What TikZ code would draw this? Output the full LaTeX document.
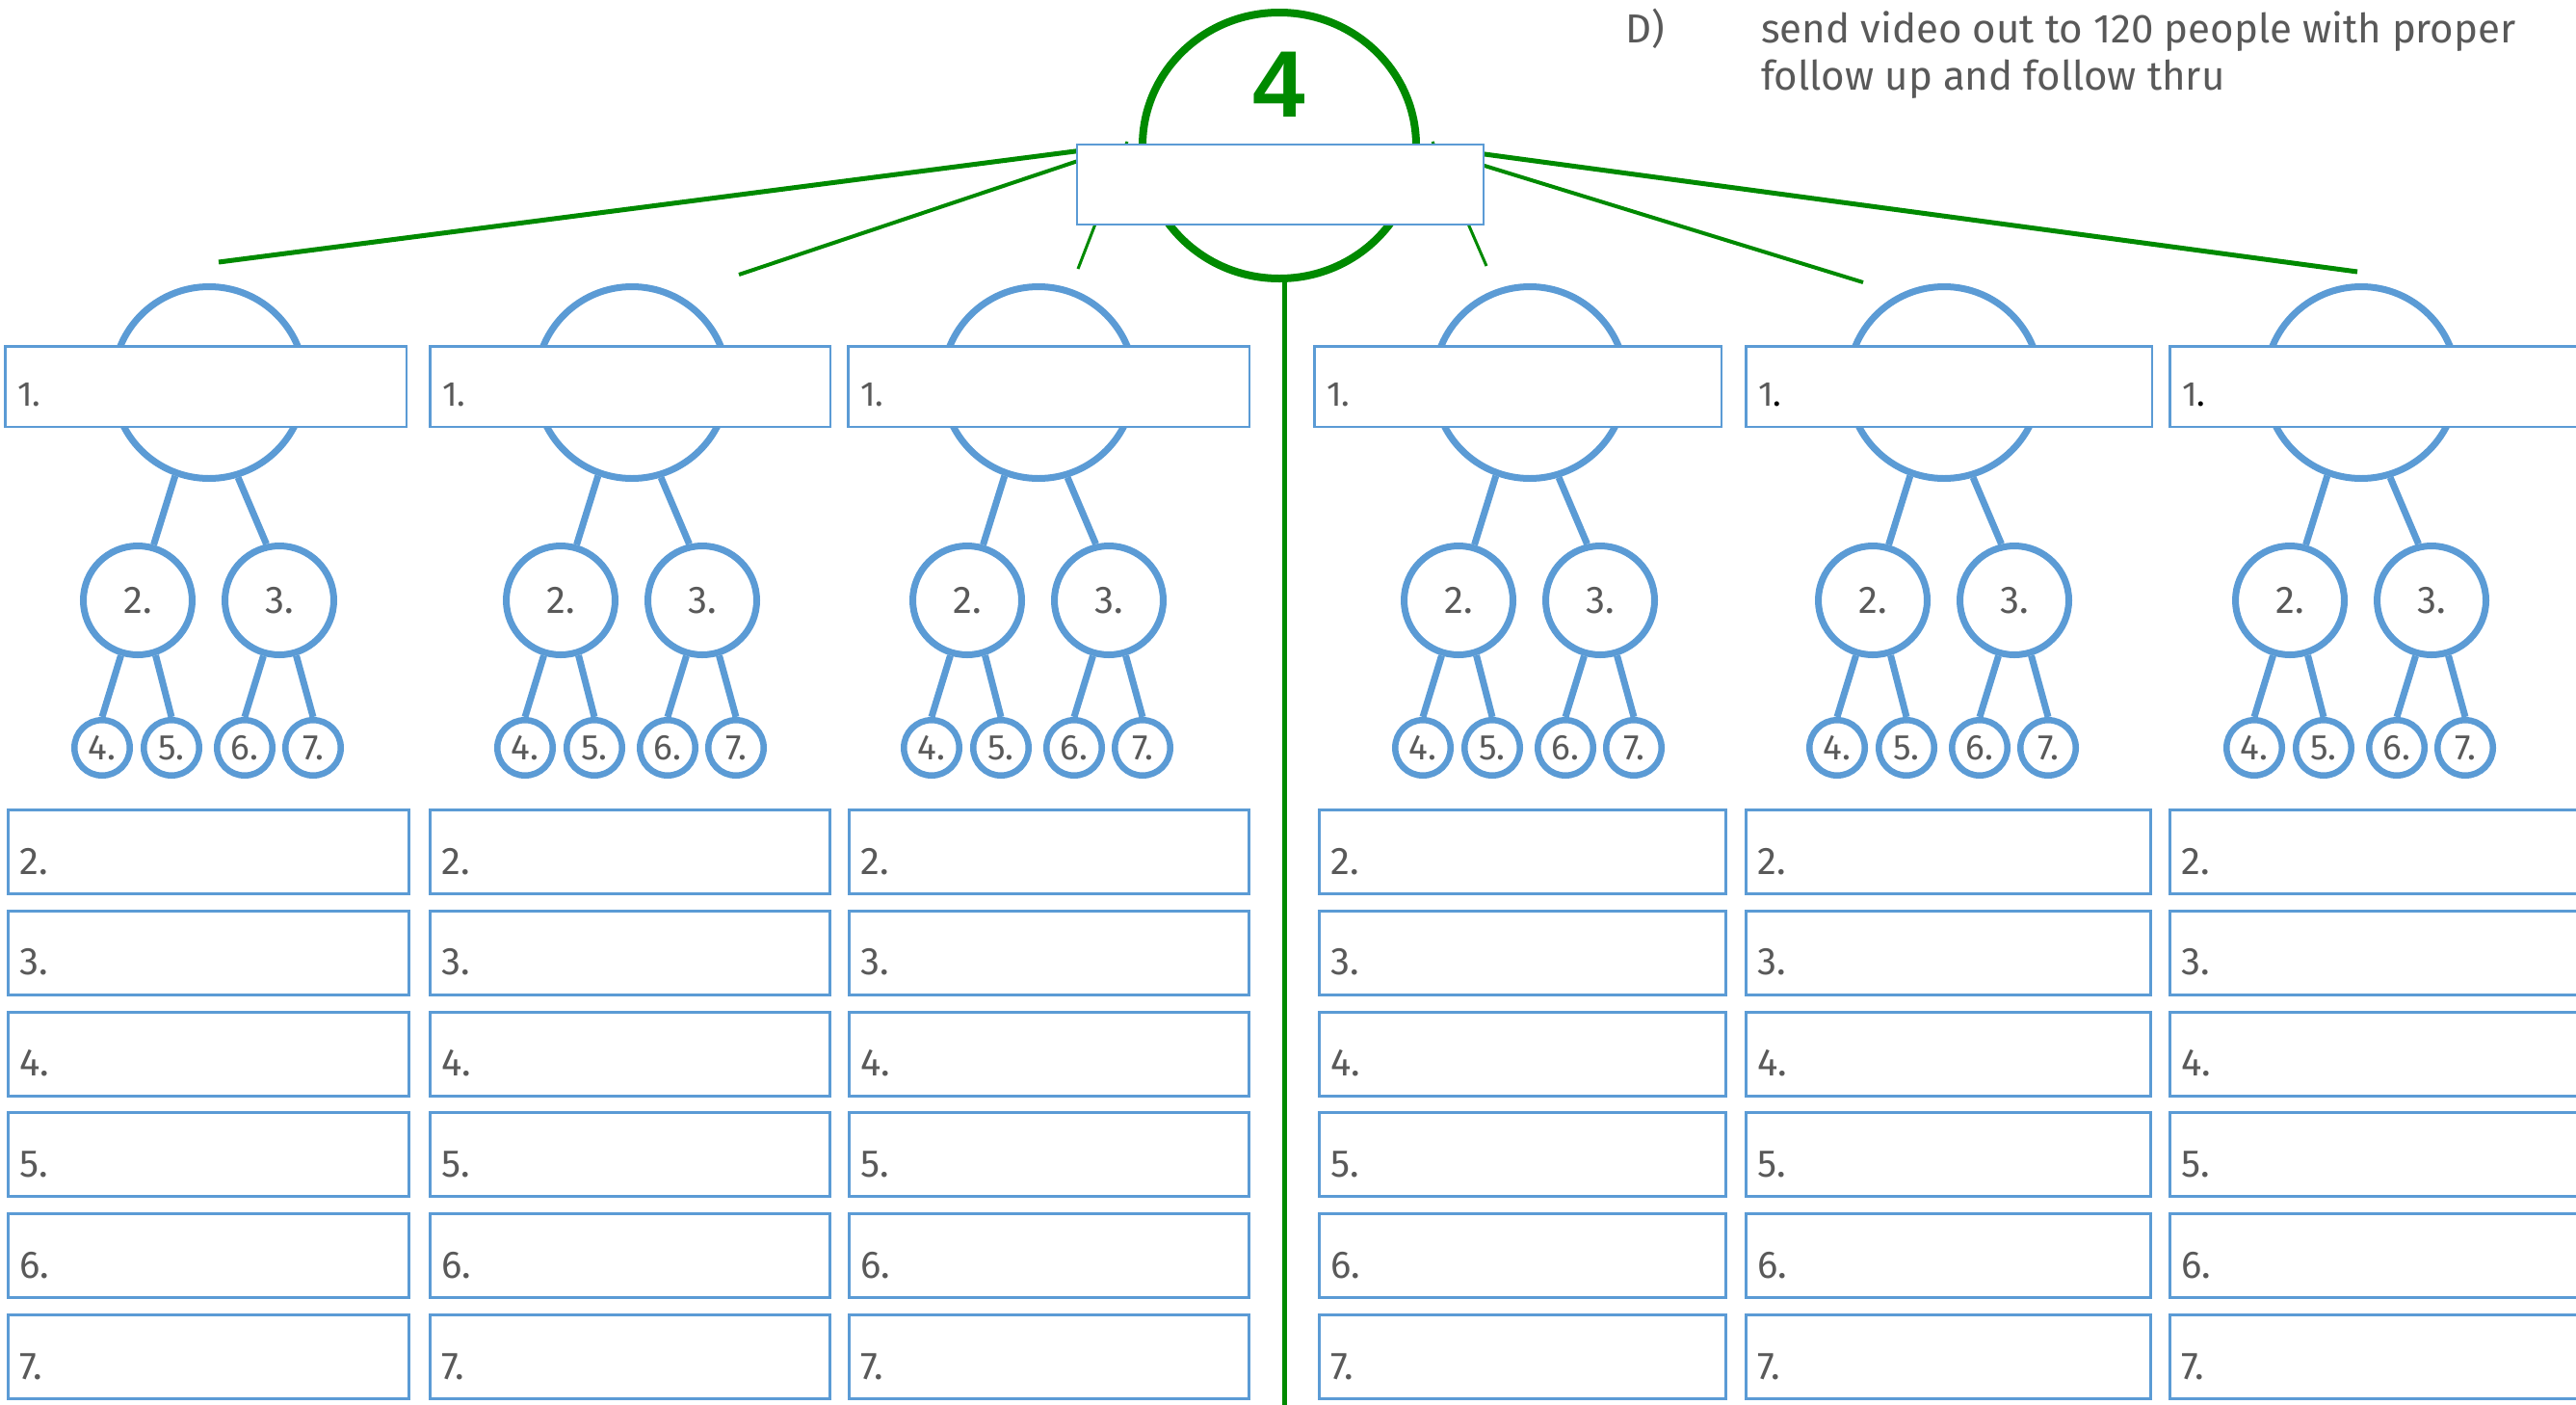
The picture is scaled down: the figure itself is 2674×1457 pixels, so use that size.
\documentclass[tikz,border=0pt]{standalone}
\usepackage{fontspec}
\usetikzlibrary{shapes.geometric}
\setmainfont{Fira Sans}
\newfontfamily\arialfont{Liberation Sans}
\definecolor{bluec}{HTML}{5B9BD5}
\definecolor{greenc}{HTML}{008A00}
\definecolor{txtc}{HTML}{595959}
\tikzset{
  topbox/.style={rectangle, draw=bluec, line width=2.5pt, fill=white, inner sep=0pt, minimum height=83.5pt},
  lowbox/.style={rectangle, draw=bluec, line width=3pt, fill=white, inner sep=0pt, minimum height=87pt},
  bigcirc/.style={circle, draw=bluec, line width=7pt, minimum size=199pt, inner sep=0pt, fill=white},
  midcirc/.style={circle, draw=bluec, line width=7pt, minimum size=113pt, inner sep=0pt, fill=white, text=txtc, font=\fontsize{40}{42}\selectfont},
  leafcirc/.style={circle, draw=bluec, line width=6.5pt, minimum size=57.5pt, inner sep=0pt, fill=white, text=txtc, font=\fontsize{37}{40}\selectfont},
  conn/.style={draw=bluec, line width=7pt},
  lowlbl/.style={anchor=base west, inner sep=0pt, text=txtc, font=\fontsize{40}{42}\selectfont},
  toplbl/.style={anchor=base west, inner sep=0pt, text=txtc, font=\fontsize{36}{38}\selectfont},
  gline/.style={draw=greenc},
  notetext/.style={anchor=base west, inner sep=0pt, text=txtc, font=\fontsize{42}{46}\selectfont},
}
\begin{document}
\begin{tikzpicture}[x=1pt,y=-1pt]
\useasboundingbox (0,0) rectangle (2674,1457);
\fill[white] (0,0) rectangle (2674,1457);

% note text
\node[notetext] (dlab) at (1687,44) {D)};
\node[notetext] (line1) at (1828,44) {send video out to 120 people with proper};
\node[notetext] (line2) at (1828,93) {follow up and follow thru};

% green hub
\node[ellipse, draw=greenc, line width=8pt, minimum width=284pt, minimum height=276pt, inner sep=0pt] (gc) at (1328,151) {};
\node[inner sep=0pt, text=greenc, font=\arialfont\bfseries\fontsize{98}{100}\selectfont] (four) at (1328,88) {4};
\coordinate (vbot) at (1333,1465);
\draw[gline, line width=5pt] (gc.south -| vbot) -- (vbot);

\coordinate (g1a) at (1130,155.2);
\coordinate (g1b) at (227,272);
\coordinate (g2a) at (1130,163.3);
\coordinate (g2b) at (767,285);
\coordinate (g3a) at (1170,147);
\coordinate (g3b) at (1119,279);
\coordinate (g4a) at (1487,147);
\coordinate (g4b) at (1543,276);
\coordinate (g5a) at (1530,168.6);
\coordinate (g5b) at (1934,293);
\coordinate (g6a) at (1530,158.5);
\coordinate (g6b) at (2447,282);
\draw[gline, line width=5pt] (g1a) -- (g1b);
\draw[gline, line width=4pt] (g2a) -- (g2b);
\draw[gline, line width=3pt] (g3a) -- (g3b);
\draw[gline, line width=3pt] (g4a) -- (g4b);
\draw[gline, line width=4pt] (g5a) -- (g5b);
\draw[gline, line width=5pt] (g6a) -- (g6b);

\node[topbox, minimum width=422pt, minimum height=83pt] (hub) at (1329,191.5) {};

% trees
\foreach \tn/\cx/\xl/\xr/\dc in {1/217/4/423/txtc, 2/656/445/863/txtc, 3/1078/879/1298/txtc, 4/1588/1363/1788/txtc, 5/2018/1811/2235/black, 6/2451/2251/2700/black}{
  \pgfmathsetmacro\bw{\xr-\xl-2.5}
  \pgfmathsetmacro\bc{(\xl+\xr)/2}
  \node[bigcirc] (b\tn) at (\cx,397) {};
  \node[midcirc] (ma\tn) at (\cx-74,623) {2.};
  \node[midcirc] (mb\tn) at (\cx+73,623) {3.};
  \node[leafcirc] (la\tn) at (\cx-111,776) {4.};
  \node[leafcirc] (lb\tn) at (\cx-39,776) {5.};
  \node[leafcirc] (lc\tn) at (\cx+37,776) {6.};
  \node[leafcirc] (ld\tn) at (\cx+108,776) {7.};
  \draw[conn] (b\tn.250) -- (ma\tn.74);
  \draw[conn] (b\tn.287) -- (mb\tn.103);
  \draw[conn] (ma\tn.253) -- (la\tn.north);
  \draw[conn] (ma\tn.288) -- (lb\tn.north);
  \draw[conn] (mb\tn.254) -- (lc\tn.north);
  \draw[conn] (mb\tn.287) -- (ld\tn.north);
  \node[topbox, minimum width=\bw pt] (tb\tn) at (\bc,401) {};
  \node[toplbl] (tl\tn) at (\xl+14,421) {1\textcolor{\dc}{.}};
}

% lower boxes
\foreach \xl/\xr in {7/426, 445/863, 880/1298, 1368/1793, 1811/2234, 2251/2700}{
  \pgfmathsetmacro\bw{\xr-\xl-3}
  \pgfmathsetmacro\bc{(\xl+\xr)/2}
  \foreach \rw in {2,...,7}{
    \pgfmathsetmacro\rt{839+(\rw-2)*104.8}
    \node[lowbox, minimum width=\bw pt] (r\rw c\xl) at (\bc,\rt+45) {};
    \node[lowlbl] (q\rw c\xl) at (\xl+13,\rt+68) {\rw.};
  }
}
\end{tikzpicture}
\end{document}
